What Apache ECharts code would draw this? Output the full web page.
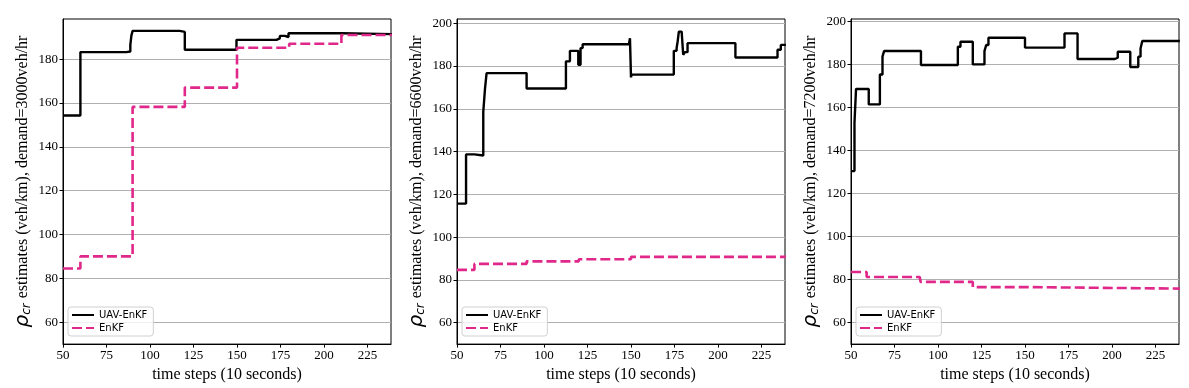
<!DOCTYPE html>
<html lang="en">
<head>
    <meta http-equiv="content-type" content="text/html;charset=utf-8">
    <title>rho_cr estimates</title>
    <script src="https://cdn.jsdelivr.net/npm/echarts@6/dist/echarts.min.js"></script>
    <style>
        html, body { margin: 0; padding: 0; background: #fff; }
        #main { width: 1189px; height: 388px; }
    </style>
</head>
<body>
<div id="main"></div>
<script>
    // step data: x = time step where a new value starts
    var uav3000X = [50, 60, 86.4, 88.7, 89.3, 90, 117.1, 120, 149.7, 172.7, 174.6, 177.5, 179.6, 210, 239];
    var uav3000Y = [154.3, 183.2, 183.5, 186.5, 190.7, 192.9, 192.4, 184.3, 188.8, 189.5, 190.6, 190.1, 191.8, 191.4, 191.4];
    var enkf3000X = [50, 60, 90, 120, 150, 180, 210, 239];
    var enkf3000Y = [84.5, 90.0, 158.2, 167.0, 185.2, 187.0, 191.0, 191.0];

    var uav6600X = [50, 55.2, 60, 65.1, 66.1, 67, 90, 112.6, 114.9, 119.7, 121, 122.2, 148.8, 149.4, 150, 150.3,
                    174.6, 176.2, 176.8, 177.5, 179.1, 180, 181, 182.5, 210, 234.2, 236.1, 239];
    var uav6600Y = [115.7, 138.7, 138.2, 158.6, 169.5, 176.7, 169.5, 182.2, 187.1, 180.6, 188.4, 190.2, 189.6, 193.0, 174.7, 176.0,
                    187.1, 188.4, 191.5, 196.1, 195.3, 185.3, 186.5, 190.7, 184.0, 187.6, 189.9, 189.9];
    var enkf6600X = [50, 60, 90, 120, 150, 239];
    var enkf6600Y = [84.7, 87.5, 88.7, 89.7, 90.8, 90.8];

    var uav7200X = [50, 52, 52.9, 60.2, 66.6, 68.1, 69, 90.2, 111.4, 112.9, 120, 126.7, 127.7, 129, 150,
                    172.7, 180.2, 201.6, 203.3, 210.5, 215.1, 216.4, 217.4, 239];
    var uav7200Y = [130.4, 152.8, 168.6, 161.4, 175.3, 183.6, 186.2, 179.7, 188.2, 190.5, 180.0, 186.2, 189.0, 192.4, 187.8,
                    194.4, 182.5, 183.1, 185.9, 178.8, 183.6, 187.4, 190.9, 190.9];
    var enkf7200X = [50, 59, 89.5, 90, 120, 150, 239];
    var enkf7200Y = [83.5, 81.2, 80.3, 78.9, 76.5, 75.8, 75.8];

    var demands = ['3000', '6600', '7200'];
    var yMaxes = [198.3, 202, 201.1];
    var yTicks = [
        [60, 80, 100, 120, 140, 160, 180],
        [60, 80, 100, 120, 140, 160, 180, 200],
        [60, 80, 100, 120, 140, 160, 180, 200]
    ];
    var xTicks = [50, 75, 100, 125, 150, 175, 200, 225];

    var uavX = [uav3000X, uav6600X, uav7200X];
    var uavY = [uav3000Y, uav6600Y, uav7200Y];
    var enkfX = [enkf3000X, enkf6600X, enkf7200X];
    var enkfY = [enkf3000Y, enkf6600Y, enkf7200Y];

    function zip(xs, ys) {
        return xs.map(function (x, i) { return [x, ys[i]]; });
    }

    var gridLefts = [63, 457, 851];
    var serif = 'Liberation Serif';

    var grids = [], xAxes = [], yAxes = [], series = [], legends = [];
    for (var i = 0; i < 3; i++) {
        grids.push({
            left: gridLefts[i], top: 19, width: 328, height: 326,
            show: true, borderColor: '#000', borderWidth: 1
        });
        xAxes.push({
            gridIndex: i, type: 'value', min: 50, max: 238.5, interval: 25,
            name: 'time steps (10 seconds)', nameLocation: 'middle', nameGap: 21,
            nameTextStyle: { fontFamily: serif, fontSize: 16, color: '#000' },
            axisLine: { show: true, lineStyle: { color: '#000', width: 1 } },
            axisTick: { show: true, inside: false, length: 3.5, lineStyle: { color: '#000' },
                        customValues: xTicks },
            axisLabel: { fontFamily: serif, fontSize: 13, color: '#000', margin: 5,
                         customValues: xTicks },
            splitLine: { show: false }
        });
        yAxes.push({
            gridIndex: i, type: 'value', min: 50, max: yMaxes[i],
            name: '{r|ρ}{s|cr} estimates (veh/km), demand=' + demands[i] + 'veh/hr',
            nameLocation: 'middle', nameGap: 30, nameRotate: 90,
            nameTextStyle: {
                fontFamily: serif, fontSize: 16, color: '#000',
                rich: {
                    r: { fontFamily: 'DejaVu Sans', fontStyle: 'italic', fontSize: 20, color: '#000' },
                    s: { fontFamily: 'DejaVu Sans', fontStyle: 'italic', fontSize: 12, color: '#000',
                         padding: [9, 1, 0, 0] }
                }
            },
            axisLine: { show: true, lineStyle: { color: '#000', width: 1 } },
            axisTick: { show: true, inside: false, length: 3.5, lineStyle: { color: '#000' },
                        customValues: yTicks[i] },
            axisLabel: { fontFamily: serif, fontSize: 13, color: '#000', margin: 5,
                         customValues: yTicks[i] },
            splitLine: { show: true, lineStyle: { color: '#b0b0b0', width: 1 } }
        });
        series.push({
            name: 'UAV-EnKF', type: 'line', xAxisIndex: i, yAxisIndex: i,
            step: 'end', symbol: 'none', showSymbol: false,
            lineStyle: { color: '#000', width: 2.4 },
            itemStyle: { color: '#000' },
            data: zip(uavX[i], uavY[i])
        });
        series.push({
            name: 'EnKF', type: 'line', xAxisIndex: i, yAxisIndex: i,
            step: 'end', symbol: 'none', showSymbol: false,
            lineStyle: { color: '#e0288a', width: 2.6, type: [10, 4] },
            itemStyle: { color: '#e0288a' },
            data: zip(enkfX[i], enkfY[i])
        });
        legends.push({
            left: gridLefts[i] + 5, top: 307, orient: 'vertical',
            data: ['UAV-EnKF', 'EnKF'],
            itemWidth: 22, itemHeight: 12, itemGap: 3,
            padding: [3, 6, 3, 3],
            borderColor: '#d0d0d0', borderWidth: 1, borderRadius: 3,
            backgroundColor: 'rgba(255,255,255,0.8)',
            itemStyle: { color: 'rgba(0,0,0,0)', borderWidth: 0, opacity: 0 },
            textStyle: { fontFamily: 'DejaVu Sans', fontSize: 10, color: '#000' }
        });
    }

    var myChart = echarts.init(document.getElementById('main'));
    myChart.setOption({
        animation: false,
        backgroundColor: '#fff',
        grid: grids,
        xAxis: xAxes,
        yAxis: yAxes,
        legend: legends,
        series: series
    });
</script>
</body>
</html>
